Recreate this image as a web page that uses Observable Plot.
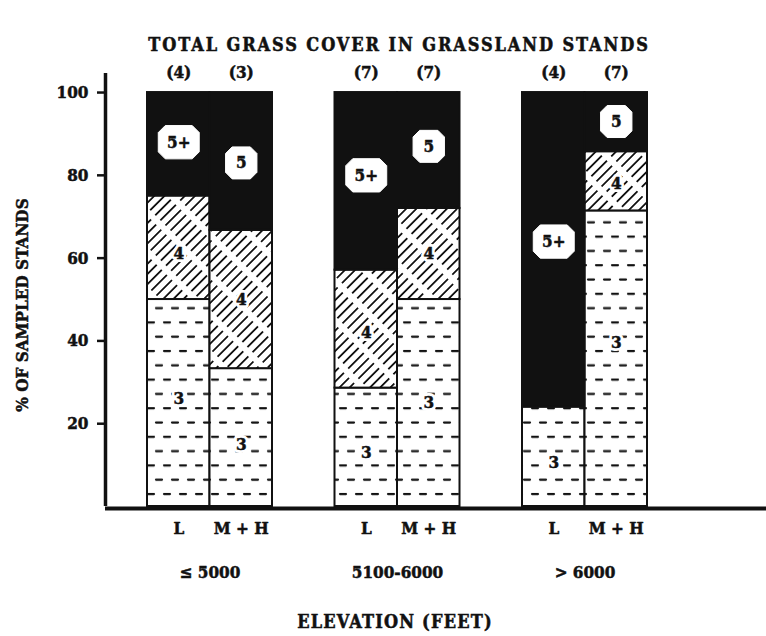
<!DOCTYPE html>
<html>
<head>
<meta charset="utf-8">
<script src="https://cdn.jsdelivr.net/npm/d3@7"></script>
<script src="https://cdn.jsdelivr.net/npm/@observablehq/plot@0.6"></script>
<style>
  body { margin: 0; background: #fff; width: 766px; height: 636px; overflow: hidden; font-family: "DejaVu Serif", serif; font-stretch: condensed; color: #111; }
  #title { height: 60px; box-sizing: border-box; padding-top: 36px; line-height: 18px; text-align: center; font-weight: bold; font-size: 18px; letter-spacing: 1.9px; padding-left: 32px; -webkit-text-stroke: 0.5px #111; }
  #xtitle { height: 41px; line-height: 54px; text-align: center; font-weight: bold; font-size: 18px; letter-spacing: 1.2px; padding-left: 24px; -webkit-text-stroke: 0.5px #111; }
  #chart svg { display: block; font-stretch: condensed; }
  g[aria-label="y-axis tick label"] text { stroke: #111; stroke-width: 0.5px; }
  g[aria-label="zone"] text { word-spacing: 2px; }
</style>
</head>
<body>
<svg width="0" height="0" style="position:absolute">
  <defs>
    <pattern id="dash3" width="48" height="28.6" patternUnits="userSpaceOnUse">
      <rect width="48" height="28.6" fill="#fff"/>
      <g stroke="#111" stroke-width="2.2" stroke-linecap="round">
        <line x1="4" y1="5" x2="10" y2="5"/>
        <line x1="20" y1="5" x2="26" y2="5"/>
        <line x1="36" y1="5" x2="42" y2="5"/>
        <line x1="12" y1="19.3" x2="18" y2="19.3"/>
        <line x1="28" y1="19.3" x2="34" y2="19.3"/>
        <line x1="44" y1="19.3" x2="50" y2="19.3"/>
        <line x1="-4" y1="19.3" x2="2" y2="19.3"/>
      </g>
    </pattern>
    <pattern id="hatch4" width="28" height="7.2" patternUnits="userSpaceOnUse" patternTransform="rotate(-45)">
      <rect width="28" height="7.2" fill="#fff"/>
      <line x1="0" y1="3.6" x2="22" y2="3.6" stroke="#111" stroke-width="1.8"/>
    </pattern>
  </defs>
</svg>
<div id="title">TOTAL GRASS COVER IN GRASSLAND STANDS</div>
<div id="chart"></div>
<div id="xtitle">ELEVATION (FEET)</div>
<script>
// ---- data ----
const groups = ["≤ 5000", "5100-6000", "> 6000"];
const zones = ["L", "M + H"];
const sampleSizes = ["(4)", "(3)", "(7)", "(7)", "(4)", "(7)"];
const class3 = [50, 33.3, 28.6, 50, 24, 71.4];
const class4 = [25, 33.4, 28.5, 22, 0, 14.3];
const class5 = [25, 33.3, 42.9, 28, 76, 14.3];
const class5Names = ["5+", "5", "5+", "5", "5+", "5"];
const label3At = [26, 15, 13, 25, 10.5, 39.5];
const label4At = [61, 50, 42, 61, null, 78];
const label5At = [88, 83, 80, 87, 64, 93];
const yTicks = [20, 40, 60, 80, 100];

// ---- derived tables ----
const bars = class3.map((_, i) => {
  const g = Math.floor(i / 2), s = i % 2;
  return { i, group: groups[g], zone: zones[s], x1: g * 3 + s, x2: g * 3 + s + 1, xm: g * 3 + s + 0.5 };
});
const segs = [];
bars.forEach(b => {
  let y0 = 0;
  [["c3", class3], ["c4", class4], ["c5", class5]].forEach(([cls, arr]) => {
    const v = arr[b.i];
    if (v > 0) segs.push({ ...b, cls, y1: y0, y2: y0 + v });
    y0 += v;
  });
});
const groupCenters = groups.map((g, k) => ({ group: g, x: k * 3 + 1 }));
const lab3 = bars.map(b => ({ ...b, y: label3At[b.i] }));
const lab4 = bars.filter(b => label4At[b.i] != null).map(b => ({ ...b, y: label4At[b.i] }));
const lab5 = bars.map(b => ({ ...b, y: label5At[b.i], name: class5Names[b.i] }));

function octagon(ax, ay) {
  return {
    draw(ctx, size) {
      const r = Math.sqrt(size / Math.PI);
      const w = r * ax, h = r * ay, c = Math.min(w, h) * 0.42;
      ctx.moveTo(-w + c, -h); ctx.lineTo(w - c, -h); ctx.lineTo(w, -h + c); ctx.lineTo(w, h - c);
      ctx.lineTo(w - c, h); ctx.lineTo(-w + c, h); ctx.lineTo(-w, h - c); ctx.lineTo(-w, -h + c);
      ctx.closePath();
    }
  };
}

const xDomain = [-0.672, 9.904];
const ink = "#111";
const fs = 17;
const txt = { fill: ink, stroke: ink, strokeWidth: 0.5, fontSize: fs, fontWeight: "bold" };
const halo = { fill: "#fff", stroke: "#fff", strokeWidth: 6, fontSize: fs, fontWeight: "bold" };

const chart = Plot.plot({
  width: 766,
  height: 535,
  marginLeft: 105,
  marginRight: 0,
  marginTop: 13,
  marginBottom: 89,
  style: { fontFamily: "DejaVu Serif", fontWeight: "bold", fontSize: fs + "px", color: ink, background: "transparent" },
  x: { type: "linear", domain: xDomain, axis: null },
  y: { domain: [0, 104.6], axis: null },
  marks: [
    Plot.rect(segs.filter(d => d.cls === "c3"), { x1: "x1", x2: "x2", y1: "y1", y2: "y2", fill: "url(#dash3)", stroke: ink, strokeWidth: 2 }),
    Plot.rect(segs.filter(d => d.cls === "c4"), { x1: "x1", x2: "x2", y1: "y1", y2: "y2", fill: "url(#hatch4)", stroke: ink, strokeWidth: 2 }),
    Plot.rect(segs.filter(d => d.cls === "c5"), { x1: "x1", x2: "x2", y1: "y1", y2: "y2", fill: ink, stroke: ink, strokeWidth: 2 }),
    Plot.axisY({ ticks: yTicks, tickSize: 8, tickPadding: 9, strokeWidth: 2.5, label: null, fontSize: fs, fontWeight: "bold" }),
    Plot.ruleX([xDomain[0]], { y1: 0, y2: 104.6, stroke: ink, strokeWidth: 3.5 }),
    Plot.ruleY([0], { x1: xDomain[0], x2: xDomain[1], stroke: ink, strokeWidth: 4, dy: 2 }),
    Plot.text(lab3, { x: "xm", y: "y", text: () => "3", ...halo }),
    Plot.text(lab3, { x: "xm", y: "y", text: () => "3", ...txt }),
    Plot.text(lab4, { x: "xm", y: "y", text: () => "4", ...halo }),
    Plot.text(lab4, { x: "xm", y: "y", text: () => "4", ...txt }),
    Plot.dot(lab5.filter(d => d.name === "5+"), { x: "xm", y: "y", r: 16, symbol: octagon(1.28, 1.04), fill: "#fff", stroke: "#fff", strokeWidth: 1 }),
    Plot.dot(lab5.filter(d => d.name === "5"), { x: "xm", y: "y", r: 16, symbol: octagon(0.98, 1.0), fill: "#fff", stroke: "#fff", strokeWidth: 1 }),
    Plot.text(lab5, { x: "xm", y: "y", text: "name", ...txt }),
    Plot.text(bars, { x: "xm", y: () => 100, text: (d) => sampleSizes[d.i], dy: -20, ...txt }),
    Plot.text(bars, { x: "xm", y: () => 0, text: "zone", dy: 22, ...txt, ariaLabel: "zone" }),
    Plot.text(groupCenters, { x: "x", y: () => 0, text: "group", dy: 66, ...txt }),
    Plot.text(["% OF SAMPLED STANDS"], { frameAnchor: "left", textAnchor: "middle", rotate: -90, dx: -83, dy: 15, ...txt, ariaLabel: "ytitle" })
  ]
});
document.getElementById("chart").append(chart);
</script>
</body>
</html>
